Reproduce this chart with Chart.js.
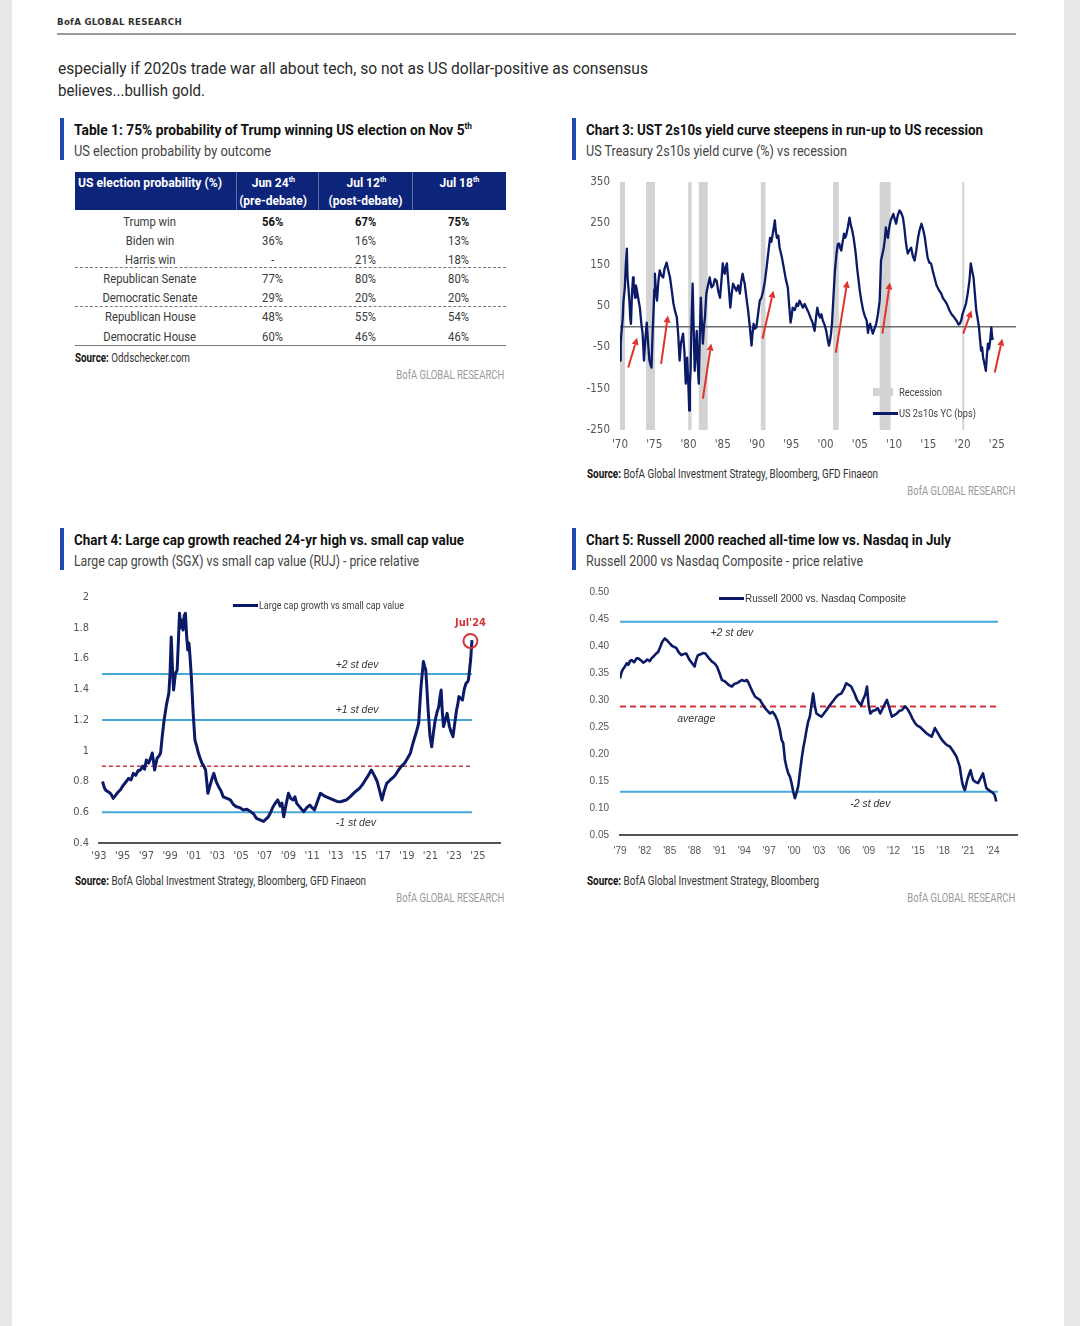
<!DOCTYPE html>
<html><head><meta charset="utf-8">
<script src="https://cdn.jsdelivr.net/npm/chart.js@4.4.1/dist/chart.umd.min.js"></script>
<style>
html,body{margin:0;padding:0;}
body{width:1080px;height:1326px;background:#e8e8e8;position:relative;overflow:hidden;font-family:Roboto,"Liberation Sans",sans-serif;color:#222;}
#page{position:absolute;left:12px;top:0;width:1052px;height:1326px;background:#fff;}
.a{position:absolute;white-space:nowrap;}
.bar{position:absolute;width:4px;height:42px;background:#1d48b5;}
.ttl{font-size:15px;font-weight:bold;color:#111;line-height:18px;}
.sub{font-size:15px;color:#444;line-height:18px;}
.src{font-size:12px;color:#333;line-height:14px;}
.src b{color:#111;}
.bofa{font-size:12px;color:#9a9a9a;line-height:14px;}
.cell{position:absolute;white-space:nowrap;font-size:13.5px;line-height:16px;color:#3a3a3a;}
.hd{position:absolute;white-space:nowrap;font-size:13.5px;line-height:17px;color:#fff;font-weight:bold;}
sup{font-size:0.6em;line-height:0;}
canvas{position:absolute;}
.lg{font-size:11.5px;color:#444;line-height:13px;}
</style>
</head>
<body>
<div id="page"></div>

<div class="a" data-w="125" style="left:57px;top:17px;font-family:'DejaVu Sans',sans-serif;font-size:9px;font-weight:bold;letter-spacing:0.3px;color:#333;line-height:11px;">BofA GLOBAL RESEARCH</div>
<div class="a" style="left:57px;top:33px;width:959px;height:2px;background:#9a9a9a;"></div>

<div class="a" data-w="590" style="left:58px;top:57px;font-size:17px;line-height:22px;color:#2a2a2a;">especially if 2020s trade war all about tech, so not as US dollar-positive as consensus</div>
<div class="a" data-w="147" style="left:58px;top:79px;font-size:17px;line-height:22px;color:#2a2a2a;">believes...bullish gold.</div>

<!-- Table 1 -->
<div class="bar" style="left:60px;top:118px;"></div>
<div class="a ttl" data-w="398" style="left:74px;top:121px;">Table 1: 75% probability of Trump winning US election on Nov 5<sup>th</sup></div>
<div class="a sub" data-w="197" style="left:74px;top:142px;">US election probability by outcome</div>
<div class="a" style="left:75px;top:172px;width:431px;height:38px;background:#0c2479;"></div>
<div class="a" style="left:236px;top:172px;width:1px;height:38px;background:rgba(255,255,255,0.35);"></div>
<div class="a" style="left:318px;top:172px;width:1px;height:38px;background:rgba(255,255,255,0.35);"></div>
<div class="a" style="left:412px;top:172px;width:1px;height:38px;background:rgba(255,255,255,0.35);"></div>
<div id="tbl"></div>
<div class="a" style="left:75px;top:267px;width:431px;border-top:1px dashed #777;"></div>
<div class="a" style="left:75px;top:306px;width:431px;border-top:1px dashed #777;"></div>
<div class="a" style="left:75px;top:345px;width:431px;height:1px;background:#777;"></div>
<div class="a src" data-w="115" style="left:75px;top:351px;"><b>Source:</b> Oddschecker.com</div>
<div class="a bofa" data-w="108" data-r="504" style="top:368px;">BofA GLOBAL RESEARCH</div>

<!-- Chart 3 -->
<div class="bar" style="left:572px;top:118px;"></div>
<div class="a ttl" data-w="397" style="left:586px;top:121px;">Chart 3: UST 2s10s yield curve steepens in run-up to US recession</div>
<div class="a sub" data-w="261" style="left:586px;top:142px;">US Treasury 2s10s yield curve (%) vs recession</div>
<canvas id="c3" width="445" height="283" style="left:575px;top:172px;"></canvas>
<div class="a" style="left:873px;top:388px;width:20px;height:8px;background:#d3d3d3;"></div>
<div class="a lg" data-w="43" style="left:899px;top:386px;">Recession</div>
<div class="a" style="left:873px;top:412px;width:25px;height:2.5px;background:#0b1a66;"></div>
<div class="a lg" data-w="77" style="left:899px;top:407px;">US 2s10s YC (bps)</div>
<div class="a src" data-w="291" style="left:587px;top:467px;"><b>Source:</b> BofA Global Investment Strategy, Bloomberg, GFD Finaeon</div>
<div class="a bofa" data-w="108" data-r="1015" style="top:484px;">BofA GLOBAL RESEARCH</div>

<!-- Chart 4 -->
<div class="bar" style="left:60px;top:528px;"></div>
<div class="a ttl" data-w="390" style="left:74px;top:531px;">Chart 4: Large cap growth reached 24-yr high vs. small cap value</div>
<div class="a sub" data-w="345" style="left:74px;top:552px;">Large cap growth (SGX) vs small cap value (RUJ) - price relative</div>
<canvas id="c4" width="450" height="280" style="left:60px;top:587px;"></canvas>
<div class="a" style="left:233px;top:604px;width:25px;height:2.5px;background:#0b1a66;"></div>
<div class="a lg" data-w="145" style="left:259px;top:599px;">Large cap growth vs small cap value</div>
<div class="a src" data-w="291" style="left:75px;top:874px;"><b>Source:</b> BofA Global Investment Strategy, Bloomberg, GFD Finaeon</div>
<div class="a bofa" data-w="108" data-r="504" style="top:891px;">BofA GLOBAL RESEARCH</div>

<!-- Chart 5 -->
<div class="bar" style="left:572px;top:528px;"></div>
<div class="a ttl" data-w="365" style="left:586px;top:531px;">Chart 5: Russell 2000 reached all-time low vs. Nasdaq in July</div>
<div class="a sub" data-w="277" style="left:586px;top:552px;">Russell 2000 vs Nasdaq Composite - price relative</div>
<canvas id="c5" width="450" height="280" style="left:575px;top:582px;"></canvas>
<div class="a" style="left:719px;top:597px;width:25px;height:2.5px;background:#0b1a66;"></div>
<div class="a lg" data-w="161" style="left:745px;top:592px;font-family:'Liberation Sans',Arial,sans-serif;font-size:10.5px;color:#333;">Russell 2000 vs. Nasdaq Composite</div>
<div class="a src" data-w="232" style="left:587px;top:874px;"><b>Source:</b> BofA Global Investment Strategy, Bloomberg</div>
<div class="a bofa" data-w="108" data-r="1015" style="top:891px;">BofA GLOBAL RESEARCH</div>

<script>
// ---------- Table 1 data ----------
const tblHeader = ['US election probability (%)', 'Jun 24', 'Jul 12', 'Jul 18'];
const tblSubHeader = ['', '(pre-debate)', '(post-debate)', ''];
const tblRows = ['Trump win','Biden win','Harris win','Republican Senate','Democratic Senate','Republican House','Democratic House'];
const tblJun24 = ['56%','36%','-','77%','29%','48%','60%'];
const tblJul12 = ['67%','16%','21%','80%','20%','55%','46%'];
const tblJul18 = ['75%','13%','18%','80%','20%','54%','46%'];

// ---------- Chart 3 data: US 2s10s (bps) ----------
const c3Years = [1970.0,1970.1,1970.2,1970.4,1970.5,1970.7,1970.85,1971.0,1971.1,1971.25,1971.4,1971.5,1971.6,1971.75,1971.9,1972.0,1972.2,1972.3,1972.4,1972.6,1972.75,1972.9,1973.1,1973.3,1973.4,1973.5,1973.7,1973.9,1974.1,1974.3,1974.5,1974.6,1974.75,1974.9,1975.0,1975.1,1975.25,1975.4,1975.6,1975.8,1976.0,1976.3,1976.5,1976.8,1977.0,1977.3,1977.5,1977.8,1978.0,1978.3,1978.5,1978.7,1978.9,1979.2,1979.4,1979.6,1979.8,1980.0,1980.1,1980.2,1980.3,1980.45,1980.6,1980.75,1980.9,1981.05,1981.2,1981.35,1981.5,1981.65,1981.8,1981.95,1982.1,1982.25,1982.4,1982.6,1982.85,1983.1,1983.35,1983.6,1983.85,1984.1,1984.35,1984.6,1984.8,1985.0,1985.15,1985.3,1985.45,1985.6,1985.8,1986.1,1986.3,1986.5,1986.75,1987.0,1987.25,1987.5,1987.7,1987.9,1988.05,1988.2,1988.45,1988.7,1988.95,1989.2,1989.35,1989.5,1989.7,1989.9,1990.15,1990.4,1990.65,1990.9,1991.15,1991.4,1991.65,1991.9,1992.1,1992.3,1992.45,1992.6,1992.75,1992.9,1993.1,1993.3,1993.6,1993.9,1994.2,1994.5,1994.7,1994.9,1995.05,1995.2,1995.5,1995.8,1996.0,1996.2,1996.45,1996.7,1996.95,1997.2,1997.5,1997.8,1998.1,1998.4,1998.6,1998.8,1999.0,1999.2,1999.4,1999.6,1999.85,2000.1,2000.3,2000.5,2000.65,2000.8,2000.95,2001.1,2001.35,2001.6,2001.8,2002.0,2002.15,2002.3,2002.5,2002.7,2002.85,2003.0,2003.25,2003.5,2003.7,2003.9,2004.1,2004.3,2004.45,2004.6,2004.8,2005.0,2005.25,2005.5,2005.75,2006.0,2006.2,2006.35,2006.5,2006.7,2006.9,2007.15,2007.4,2007.65,2007.9,2008.0,2008.1,2008.3,2008.5,2008.65,2008.8,2008.95,2009.1,2009.3,2009.5,2009.7,2009.9,2010.1,2010.3,2010.55,2010.8,2011.05,2011.3,2011.5,2011.7,2011.85,2012.0,2012.25,2012.5,2012.75,2013.0,2013.25,2013.5,2013.75,2014.0,2014.25,2014.5,2014.7,2014.9,2015.15,2015.4,2015.65,2015.9,2016.2,2016.6,2016.9,2017.1,2017.4,2017.7,2018.1,2018.4,2018.8,2019.1,2019.4,2019.6,2019.8,2020.0,2020.2,2020.5,2020.75,2021.0,2021.2,2021.4,2021.6,2021.8,2022.0,2022.2,2022.4,2022.55,2022.7,2022.85,2023.0,2023.2,2023.4,2023.55,2023.7,2023.8,2023.9,2024.05,2024.2,2024.35,2024.5];
const c3Vals = [-82,-40,-17,20,60,94,150,189,120,90,56,20,7,80,119,95,70,100,94,75,60,46,10,-17,-50,-82,-30,10,-40,-82,-95,-99,-20,39,90,128,80,63,110,136,125,119,140,155,140,119,95,56,40,22,-20,-82,-40,-17,-60,-138,-75,-150,-203,-140,-107,20,104,0,-107,-60,-10,-90,-138,-20,70,10,-41,0,22,80,100,119,95,99,115,111,85,70,110,153,135,128,145,153,110,46,80,104,95,87,100,80,110,128,115,104,70,39,0,-46,-15,7,-5,-2,30,63,70,87,110,143,180,215,205,225,240,257,230,215,220,191,170,143,115,94,50,10,25,46,40,56,50,63,55,46,55,46,35,22,10,-10,20,46,30,22,30,15,5,-10,-30,-46,-35,-17,10,56,130,177,200,201,190,184,205,225,215,220,240,264,245,232,215,191,170,143,115,87,60,39,25,15,-15,0,7,-5,-17,-5,7,30,63,110,160,175,191,210,240,225,215,240,257,265,273,260,249,270,281,275,264,240,208,190,177,185,191,170,160,185,215,235,249,235,215,190,167,155,153,135,119,100,87,80,70,63,55,39,30,22,15,5,7,15,31,40,56,80,111,153,135,119,80,39,20,-2,-30,-58,-50,-75,-90,-107,-70,-41,-55,-51,-30,-2,-30,-27];
const c3XTicks = [1970,1975,1980,1985,1990,1995,2000,2005,2010,2015,2020,2025];
const c3YTicks = [-250,-150,-50,50,150,250,350];
const recStart = [1969.9,1973.8,1979.96,1981.5,1990.55,2001.1,2007.9,2019.95];
const recEnd   = [1970.73,1975.1,1980.45,1982.8,1991.24,2001.93,2009.5,2020.25];
const arrowFromYear = [1971.2,1976.0,1982.1,1990.8,2001.5,2008.3,2020.1,2024.7];
const arrowFromVal  = [-99,-90,-174,-29,-63,-17,-17,-111];
const arrowToYear   = [1972.5,1977.0,1983.3,1992.4,2003.2,2009.4,2021.3,2025.8];
const arrowToVal    = [-27,27,-41,87,111,107,39,-29];

// ---------- Chart 4 data: Large cap growth vs small cap value ----------
const c4Years = [1993.3,1993.45,1993.6,1993.8,1994.0,1994.2,1994.4,1994.6,1994.8,1995.0,1995.3,1995.5,1995.7,1995.9,1996.1,1996.3,1996.5,1996.7,1996.85,1997.0,1997.2,1997.4,1997.5,1997.7,1997.9,1998.1,1998.2,1998.35,1998.5,1998.7,1998.9,1999.0,1999.1,1999.2,1999.3,1999.45,1999.6,1999.7,1999.8,1999.9,2000.0,2000.1,2000.2,2000.3,2000.4,2000.5,2000.6,2000.7,2000.8,2000.95,2001.1,2001.25,2001.4,2001.55,2001.7,2001.85,2002.0,2002.1,2002.2,2002.4,2002.55,2002.7,2002.9,2003.1,2003.3,2003.5,2003.8,2004.1,2004.35,2004.6,2004.9,2005.2,2005.5,2005.8,2006.05,2006.3,2006.6,2006.9,2007.1,2007.3,2007.5,2007.7,2007.9,2008.1,2008.3,2008.45,2008.6,2008.8,2009.0,2009.2,2009.4,2009.55,2009.7,2010.0,2010.3,2010.55,2010.8,2011.0,2011.2,2011.45,2011.7,2011.95,2012.2,2012.5,2012.8,2013.1,2013.4,2013.65,2013.9,2014.2,2014.5,2014.75,2015.0,2015.25,2015.5,2015.75,2016.0,2016.25,2016.5,2016.7,2016.9,2017.1,2017.3,2017.6,2017.9,2018.1,2018.3,2018.55,2018.8,2019.05,2019.3,2019.45,2019.6,2019.8,2020.0,2020.1,2020.2,2020.3,2020.4,2020.5,2020.6,2020.7,2020.8,2020.95,2021.1,2021.25,2021.4,2021.55,2021.7,2021.8,2021.9,2022.0,2022.1,2022.25,2022.4,2022.5,2022.6,2022.75,2022.9,2023.05,2023.2,2023.3,2023.4,2023.55,2023.7,2023.85,2024.0,2024.15,2024.2,2024.3,2024.4,2024.5];
const c4Vals = [0.80,0.76,0.74,0.733,0.72,0.69,0.71,0.73,0.745,0.77,0.80,0.82,0.81,0.853,0.84,0.87,0.875,0.90,0.88,0.94,0.92,0.96,0.985,0.875,0.95,0.97,0.985,1.10,1.20,1.30,1.375,1.50,1.74,1.55,1.395,1.50,1.525,1.70,1.894,1.80,1.85,1.785,1.88,1.894,1.75,1.655,1.70,1.60,1.48,1.25,1.07,1.03,0.983,0.95,0.918,0.90,0.875,0.80,0.723,0.78,0.82,0.853,0.80,0.766,0.74,0.70,0.69,0.68,0.65,0.636,0.63,0.615,0.62,0.604,0.59,0.56,0.55,0.54,0.555,0.57,0.60,0.636,0.66,0.68,0.64,0.66,0.57,0.65,0.723,0.69,0.68,0.70,0.658,0.63,0.604,0.63,0.647,0.63,0.615,0.67,0.723,0.71,0.70,0.69,0.68,0.67,0.668,0.675,0.68,0.70,0.723,0.74,0.755,0.78,0.81,0.84,0.875,0.84,0.80,0.74,0.68,0.74,0.788,0.81,0.83,0.85,0.875,0.90,0.918,0.95,0.983,1.03,1.07,1.12,1.178,1.30,1.417,1.50,1.58,1.55,1.525,1.40,1.265,1.10,1.026,1.12,1.20,1.25,1.287,1.35,1.395,1.25,1.157,1.20,1.243,1.20,1.157,1.12,1.092,1.18,1.265,1.30,1.352,1.34,1.33,1.40,1.439,1.45,1.46,1.525,1.60,1.72];
const c4XTicks = [1993,1995,1997,1999,2001,2003,2005,2007,2009,2011,2013,2015,2017,2019,2021,2023,2025];
const c4YTicks = [0.4,0.6,0.8,1.0,1.2,1.4,1.6,1.8,2.0];
const c4Plus2 = 1.5, c4Plus1 = 1.2, c4Avg = 0.9, c4Minus1 = 0.6;

// ---------- Chart 5 data: Russell 2000 vs Nasdaq Composite ----------
const c5Years = [1979.0,1979.2,1979.4,1979.6,1979.8,1980.0,1980.2,1980.4,1980.7,1981.0,1981.2,1981.5,1981.8,1982.0,1982.3,1982.6,1982.8,1983.0,1983.3,1983.6,1983.9,1984.1,1984.4,1984.7,1985.0,1985.3,1985.6,1985.8,1986.1,1986.4,1986.7,1987.0,1987.2,1987.4,1987.7,1988.0,1988.2,1988.4,1988.8,1989.0,1989.3,1989.7,1990.1,1990.4,1990.7,1991.0,1991.3,1991.6,1991.9,1992.2,1992.5,1992.8,1993.1,1993.4,1993.7,1994.0,1994.3,1994.5,1994.7,1995.0,1995.3,1995.6,1995.9,1996.2,1996.5,1996.8,1997.1,1997.4,1997.7,1998.0,1998.3,1998.5,1998.7,1998.9,1999.1,1999.3,1999.5,1999.7,1999.9,2000.1,2000.3,2000.5,2000.7,2000.9,2001.1,2001.3,2001.5,2001.7,2001.9,2002.1,2002.3,2002.5,2002.7,2003.0,2003.3,2003.6,2003.9,2004.2,2004.5,2004.8,2005.1,2005.4,2005.7,2006.0,2006.3,2006.6,2006.9,2007.1,2007.3,2007.6,2007.9,2008.1,2008.3,2008.6,2008.8,2009.0,2009.2,2009.5,2009.8,2010.1,2010.4,2010.8,2011.2,2011.5,2011.8,2012.1,2012.4,2012.7,2013.0,2013.4,2013.7,2014.0,2014.3,2014.6,2014.9,2015.2,2015.6,2016.0,2016.3,2016.6,2017.0,2017.3,2017.6,2017.9,2018.2,2018.5,2018.8,2019.2,2019.6,2019.8,2020.0,2020.15,2020.3,2020.45,2020.6,2020.75,2020.9,2021.1,2021.3,2021.45,2021.6,2021.9,2022.2,2022.5,2022.8,2023.0,2023.2,2023.5,2023.8,2024.0,2024.2,2024.3,2024.4];
const c5Vals = [0.34,0.352,0.358,0.362,0.368,0.365,0.372,0.374,0.37,0.377,0.377,0.374,0.369,0.371,0.375,0.372,0.377,0.38,0.385,0.389,0.40,0.408,0.414,0.41,0.405,0.40,0.398,0.396,0.388,0.383,0.385,0.386,0.38,0.374,0.368,0.362,0.375,0.383,0.385,0.387,0.386,0.378,0.371,0.368,0.362,0.35,0.337,0.335,0.331,0.327,0.325,0.33,0.331,0.334,0.337,0.335,0.337,0.332,0.325,0.315,0.306,0.303,0.30,0.292,0.285,0.28,0.275,0.278,0.272,0.262,0.244,0.226,0.22,0.189,0.175,0.164,0.158,0.146,0.13,0.118,0.128,0.14,0.165,0.189,0.21,0.226,0.244,0.26,0.269,0.29,0.312,0.29,0.275,0.272,0.269,0.275,0.281,0.288,0.294,0.30,0.306,0.31,0.312,0.32,0.331,0.328,0.325,0.318,0.312,0.30,0.294,0.29,0.30,0.31,0.325,0.29,0.275,0.28,0.281,0.285,0.275,0.288,0.30,0.285,0.269,0.272,0.275,0.28,0.281,0.288,0.283,0.275,0.265,0.257,0.252,0.25,0.244,0.238,0.235,0.232,0.248,0.24,0.232,0.225,0.22,0.216,0.214,0.205,0.195,0.186,0.176,0.16,0.146,0.138,0.133,0.142,0.152,0.162,0.17,0.16,0.152,0.148,0.146,0.155,0.164,0.15,0.137,0.133,0.13,0.128,0.124,0.118,0.112];
const c5XTicks = [1979,1982,1985,1988,1991,1994,1997,2000,2003,2006,2009,2012,2015,2018,2021,2024];
const c5YTicks = [0.05,0.10,0.15,0.20,0.25,0.30,0.35,0.40,0.45,0.50];
const c5Plus2 = 0.445, c5Avg = 0.288, c5Minus2 = 0.13;

// ---------- Table build ----------
(function(){
  const t = document.getElementById('tbl');
  const cx = [150, 273, 366, 459];
  const mk = (html, cls, top, extra) => {
    const d = document.createElement('div');
    d.className = cls; d.innerHTML = html; d.style.top = top + 'px';
    if (extra) Object.assign(d.style, extra);
    t.appendChild(d); return d;
  };
  const hd = [], cells = [];
  const h0 = mk(tblHeader[0], 'hd', 174, {left: '78px'});
  h0.dataset.w = '144';
  for (let c = 1; c < 4; c++) {
    const a = mk(tblHeader[c] + '<sup>th</sup>', 'hd', 174); a.dataset.cx = cx[c]; hd.push(a);
    if (tblSubHeader[c]) { const b = mk(tblSubHeader[c], 'hd', 192); b.dataset.cx = cx[c]; hd.push(b); }
  }
  const rowY = [221,240,259,278,297,316,336];
  tblRows.forEach((r, i) => {
    const top = rowY[i] - 8;
    const bold = i === 0 ? {fontWeight: 'bold', color: '#111'} : null;
    const l = mk(r, 'cell', top); l.dataset.cx = cx[0]; cells.push(l);
    [tblJun24, tblJul12, tblJul18].forEach((col, c) => {
      const d = mk(col[i], 'cell', top, bold); d.dataset.cx = cx[c + 1]; cells.push(d);
    });
  });
  // uniform horizontal condensing (reference font is a condensed face)
  const sCell = 95 / cells[4 * 4].getBoundingClientRect().width;   // "Democratic Senate"
  const sHd = 74 / hd[3].getBoundingClientRect().width;             // "(post-debate)"
  const place = (el, s) => {
    const w = el.getBoundingClientRect().width;
    el.style.left = (+el.dataset.cx - w / 2) + 'px';
    el.style.transformOrigin = 'center center';
    el.style.transform = 'scaleX(' + s + ')';
  };
  cells.forEach(el => place(el, sCell));
  hd.forEach(el => place(el, sHd));
})();

// fit text blocks to the reference widths
document.querySelectorAll('[data-w]').forEach(el => {
  const nat = el.getBoundingClientRect().width;
  const s = +el.dataset.w / nat;
  if (el.dataset.r) {
    el.style.left = (+el.dataset.r - nat) + 'px';
    el.style.transformOrigin = 'right center';
  } else {
    el.style.transformOrigin = 'left center';
  }
  el.style.transform = 'scaleX(' + s + ')';
});

// ---------- Charts ----------
const NAVY = '#0b1a66', LBLUE = '#45a8d8', RED = '#d2323a';
const NARROW = '"DejaVu Sans Condensed","Liberation Sans",sans-serif';
const ARIAL = '"Liberation Sans",Arial,sans-serif';
const series = (xs, ys) => xs.map((x, i) => ({x, y: ys[i]}));
const hline = (x0, x1, y) => [{x: x0, y}, {x: x1, y}];
const yearLbl = v => "'" + String(Math.round(v)).slice(2);

function xScale(min, max, ticks, h, pad, font, border) {
  return {
    type: 'linear', min, max,
    afterBuildTicks: s => { s.ticks = ticks.map(v => ({value: v})); },
    afterFit: s => { s.height = h; s.paddingLeft = 0; s.paddingRight = 0; },
    grid: {display: false, drawTicks: false},
    border: {display: border, color: '#555', width: 2},
    ticks: {padding: pad, autoSkip: false, maxRotation: 0, color: '#555', font, callback: yearLbl}
  };
}
function yScale(min, max, ticks, w, pad, font, fmt) {
  return {
    type: 'linear', min, max,
    afterBuildTicks: s => { s.ticks = ticks.map(v => ({value: v})); },
    afterFit: s => { s.width = w; s.paddingTop = 0; s.paddingBottom = 0; },
    grid: {display: false, drawTicks: false},
    border: {display: false},
    ticks: {padding: pad, autoSkip: false, color: '#555', font, callback: fmt}
  };
}
const lineDs = (data, color, width, dash) => ({
  data, borderColor: color, borderWidth: width, borderDash: dash || [], pointRadius: 0,
  fill: false, tension: 0, borderJoinStyle: 'round'
});
const baseOpts = (pad, scales) => ({
  responsive: false, animation: false,
  layout: {padding: pad},
  plugins: {legend: {display: false}, tooltip: {enabled: false}},
  scales
});
function labelPlugin(id, items) {
  return {id, afterDatasetsDraw(chart) {
    const {ctx, scales: {x, y}} = chart;
    ctx.save();
    items.forEach(it => {
      ctx.font = it.font; ctx.fillStyle = it.color || '#333';
      ctx.textAlign = 'center'; ctx.textBaseline = 'middle';
      ctx.fillText(it.text, x.getPixelForValue(it.x), y.getPixelForValue(it.y) + it.dy);
    });
    ctx.restore();
  }};
}

// Chart 3
const c3Min = 1970, c3Max = 2027.8;
const recessionPlugin = {id: 'rec', beforeDatasetsDraw(chart) {
  const {ctx, chartArea: a, scales: {x}} = chart;
  ctx.save(); ctx.fillStyle = '#d3d3d3';
  recStart.forEach((s, i) => {
    const x0 = Math.max(a.left, x.getPixelForValue(s));
    const x1 = x.getPixelForValue(recEnd[i]);
    ctx.fillRect(x0, a.top, x1 - x0, a.bottom - a.top);
  });
  ctx.restore();
}};
const arrowPlugin = {id: 'arr', afterDatasetsDraw(chart) {
  const {ctx, scales: {x, y}} = chart;
  ctx.save(); ctx.strokeStyle = '#e0332b'; ctx.fillStyle = '#e0332b'; ctx.lineWidth = 2;
  arrowFromYear.forEach((fy, i) => {
    const x0 = x.getPixelForValue(fy), y0 = y.getPixelForValue(arrowFromVal[i]);
    const x1 = x.getPixelForValue(arrowToYear[i]), y1 = y.getPixelForValue(arrowToVal[i]);
    const ang = Math.atan2(y1 - y0, x1 - x0), L = 7, W = 3.5;
    const bx = x1 - L * Math.cos(ang), by = y1 - L * Math.sin(ang);
    ctx.beginPath(); ctx.moveTo(x0, y0); ctx.lineTo(bx, by); ctx.stroke();
    ctx.beginPath(); ctx.moveTo(x1, y1);
    ctx.lineTo(bx + W * Math.sin(ang), by - W * Math.cos(ang));
    ctx.lineTo(bx - W * Math.sin(ang), by + W * Math.cos(ang));
    ctx.closePath(); ctx.fill();
  });
  ctx.restore();
}};
new Chart(document.getElementById('c3'), {
  type: 'line',
  data: {datasets: [
    lineDs(series(c3Years, c3Vals), NAVY, 2.3),
    lineDs(hline(c3Min, c3Max, 0), '#6d6d6d', 1.5)
  ]},
  options: baseOpts({top: 10, right: 4, left: 0, bottom: 0}, {
    x: xScale(c3Min, c3Max, c3XTicks, 25, 8, {family: NARROW, size: 11.5}, false),
    y: yScale(-250, 350, c3YTicks, 45, 10, {family: NARROW, size: 11.5}, v => String(v))
  }),
  plugins: [recessionPlugin, arrowPlugin]
});

// Chart 4
const c4Min = 1993, c4Max = 2026.87;
const jul24Plugin = {id: 'jul24', afterDatasetsDraw(chart) {
  const {ctx, scales: {x, y}} = chart;
  const px = x.getPixelForValue(c4Years[c4Years.length - 1]) - 1.5;
  const py = y.getPixelForValue(c4Vals[c4Vals.length - 1]) + 1;
  ctx.save(); ctx.strokeStyle = RED; ctx.lineWidth = 2;
  ctx.beginPath(); ctx.arc(px, py, 7, 0, Math.PI * 2); ctx.stroke();
  ctx.fillStyle = RED; ctx.font = 'bold 11px ' + NARROW; ctx.textAlign = 'center'; ctx.textBaseline = 'middle';
  ctx.fillText("Jul'24", px, py - 18);
  ctx.restore();
}};
const it4 = 'italic 10.5px ' + ARIAL;
new Chart(document.getElementById('c4'), {
  type: 'line',
  data: {datasets: [
    lineDs(series(c4Years, c4Vals), NAVY, 3),
    lineDs(hline(1993.25, 2024.5, c4Plus2), LBLUE, 2),
    lineDs(hline(1993.25, 2024.5, c4Plus1), LBLUE, 2),
    lineDs(hline(1993.25, 2024.4, c4Avg), '#c83a44', 1.5, [4, 3]),
    lineDs(hline(1993.25, 2024.5, c4Minus1), LBLUE, 2)
  ]},
  options: baseOpts({top: 10, right: 10, left: 0, bottom: 0}, {
    x: xScale(c4Min, c4Max, c4XTicks, 24, 7, {family: NARROW, size: 11}, true),
    y: yScale(0.4, 2.0, c4YTicks, 39, 10, {family: NARROW, size: 11},
      v => (Math.abs(v - Math.round(v)) < 1e-9 ? String(Math.round(v)) : v.toFixed(1)))
  }),
  plugins: [jul24Plugin, labelPlugin('l4', [
    {text: '+2 st dev', x: 2014.8, y: c4Plus2, dy: -9, font: it4},
    {text: '+1 st dev', x: 2014.8, y: c4Plus1, dy: -10, font: it4},
    {text: '-1 st dev', x: 2014.7, y: c4Minus1, dy: 11, font: it4}
  ])]
});

// Chart 5
const c5Min = 1979, c5Max = 2026.9;
const it5 = 'italic 10.5px ' + ARIAL;
new Chart(document.getElementById('c5'), {
  type: 'line',
  data: {datasets: [
    lineDs(series(c5Years, c5Vals), NAVY, 2.6),
    lineDs(hline(c5Min, 2024.6, c5Plus2), LBLUE, 2),
    lineDs(hline(c5Min, 2024.6, c5Avg), '#d9303a', 2, [6, 4]),
    lineDs(hline(c5Min, 2024.6, c5Minus2), LBLUE, 2)
  ]},
  options: baseOpts({top: 10, right: 8, left: 0, bottom: 0}, {
    x: xScale(c5Min, c5Max, c5XTicks, 27, 10, {family: ARIAL, size: 10}, true),
    y: yScale(0.05, 0.50, c5YTicks, 45, 11, {family: ARIAL, size: 10}, v => v.toFixed(2))
  }),
  plugins: [labelPlugin('l5', [
    {text: '+2 st dev', x: 1992.5, y: c5Plus2, dy: 11, font: it5},
    {text: 'average', x: 1988.2, y: c5Avg, dy: 13, font: it5},
    {text: '-2 st dev', x: 2009.2, y: c5Minus2, dy: 12, font: it5}
  ])]
});
</script>
</body></html>
